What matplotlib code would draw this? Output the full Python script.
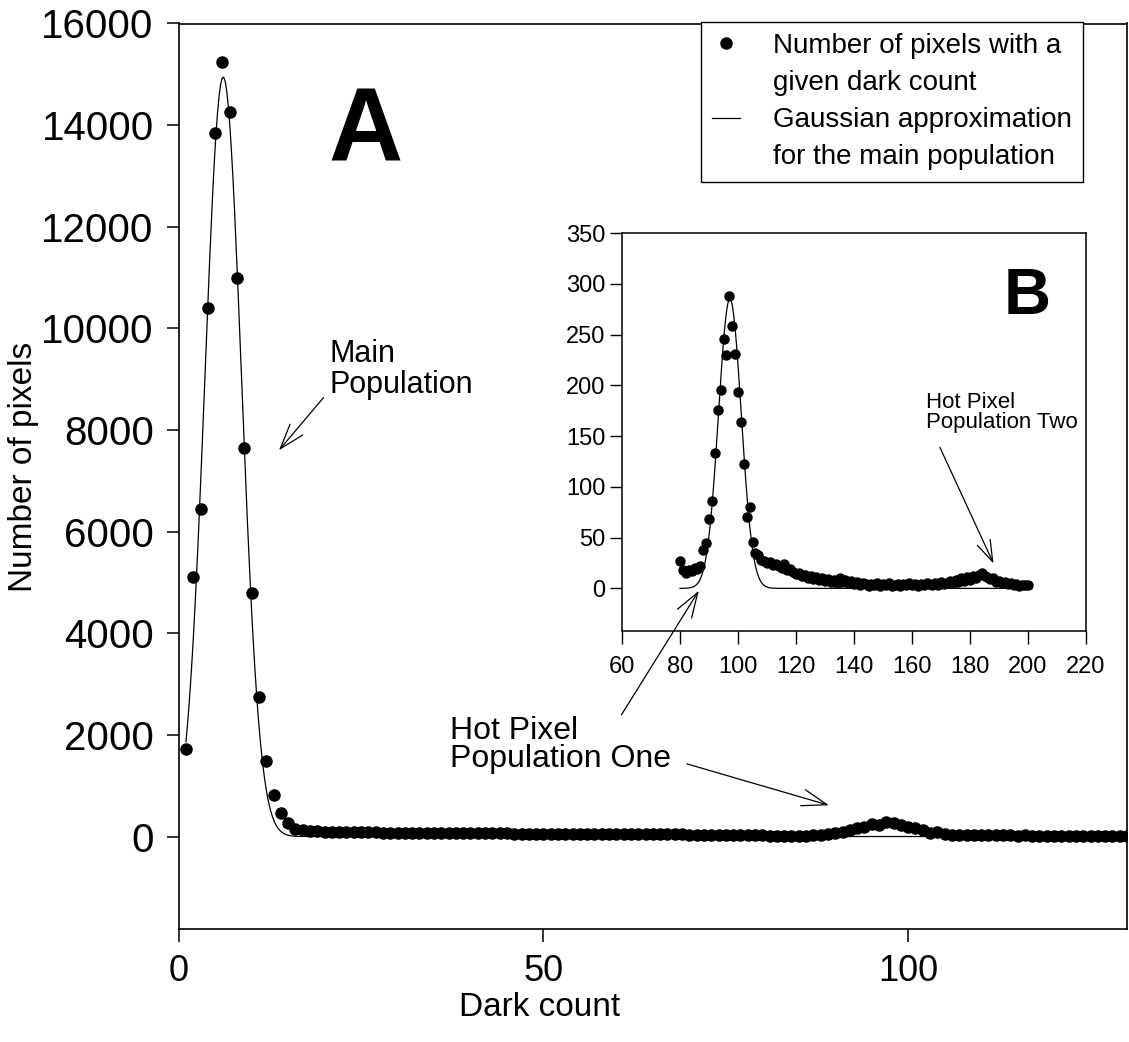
import numpy as np
import matplotlib
matplotlib.use("Agg")
import matplotlib.pyplot as plt
from matplotlib.lines import Line2D

plt.rcParams['font.family'] = ['Liberation Sans', 'DejaVu Sans']

# dark count histogram
dark_count = list(range(1, 201))
pixels = [
    1720, 5100, 6450, 10400, 13850, 15250, 14250, 11000, 7650, 4800,
    2750, 1490, 820, 460, 270, 150, 125, 110, 100, 95,
    92, 90, 88, 85, 84, 82, 80, 79, 78, 76,
    75, 74, 72, 71, 70, 69, 68, 67, 66, 65,
    64, 63, 62, 61, 60, 59, 58, 57, 56, 55,
    55, 54, 53, 52, 51, 50, 50, 49, 48, 47,
    46, 46, 45, 44, 43, 42, 42, 41, 40, 39,
    38, 37, 36, 35, 34, 33, 32, 30, 29,
    # 80 .. 200
    27, 18, 15, 18, 17, 20, 19, 22, 38, 45,
    68, 86, 133, 176, 195, 246, 230, 288, 258, 231,
    193, 164, 122, 70, 80, 46, 35, 33, 28, 27,
    25, 26, 23, 24, 22, 20, 24, 18, 19, 16,
    14, 15, 12, 13, 10, 12, 9, 11, 8, 10,
    7, 9, 6, 8, 5, 10, 6, 8, 5, 7,
    4, 6, 3, 5, 4, 2, 4, 3, 5, 2,
    4, 3, 5, 2, 3, 4, 2, 4, 3, 5,
    3, 4, 2, 4, 3, 5, 4, 3, 5, 3,
    6, 4, 5, 7, 5, 8, 6, 10, 7, 11,
    8, 12, 10, 13, 15, 12, 11, 9, 10, 6,
    7, 5, 6, 4, 5, 3, 4, 2, 3, 3,
    3,
]

# gaussian approximation parameters for the main population
main_amp, main_mu, main_sigma = 14950, 6.1, 2.5
inset_amp, inset_mu, inset_sigma = 285, 97.2, 3.9

x = np.array(dark_count)
y = np.array(pixels)

fig = plt.figure(figsize=(11.29, 10.42), dpi=100)
ax = fig.add_axes([178.7 / 1129, 1 - 929 / 1042, 948.3 / 1129, 905.5 / 1042])

xs = np.linspace(1, 130, 600)
ax.plot(xs, main_amp * np.exp(-(xs - main_mu) ** 2 / (2 * main_sigma ** 2)),
        color='black', lw=0.9, zorder=2)
ax.plot(x, y, 'o', color='black', ms=8, zorder=3)

ax.set_xlim(0, 130)
ax.set_ylim(-1820, 16000)
ax.set_xticks([0, 50, 100])
ax.set_yticks(range(0, 16001, 2000))
ax.tick_params(direction='out', length=9, width=1.1, pad=9)
ax.tick_params(axis='y', labelsize=29)
ax.tick_params(axis='x', labelsize=26)
for s in ax.spines.values():
    s.set_linewidth(1.2)
ax.set_xlabel('Dark count', fontsize=24)
ax.xaxis.set_label_coords((540 - 178.7) / 948.3, -0.07)
ax.set_ylabel('Number of pixels', fontsize=24)
ax.yaxis.set_label_coords(-0.147, 0.51)

ax.text(20.5, 13304, 'A', fontsize=74, fontweight='bold', va='baseline')
ax.text(20.7, 9800, 'Main\nPopulation', fontsize=22, va='top', linespacing=1.05)
ax.annotate('', xy=(13.5, 7560), xytext=(20.1, 8680),
            arrowprops=dict(arrowstyle='->,head_length=0.9,head_width=0.3',
                            lw=0.9, color='black', mutation_scale=20))
ax.text(37.2, 1800, 'Hot Pixel\nPopulation One', fontsize=23, va='center',
        linespacing=0.95)
ax.annotate('', xy=(89.5, 600), xytext=(69.3, 1445),
            arrowprops=dict(arrowstyle='->,head_length=0.9,head_width=0.3',
                            lw=0.9, color='black', mutation_scale=20))

handles = [Line2D([], [], marker='o', ls='none', color='black', ms=8),
           Line2D([], [], ls='none'),
           Line2D([], [], color='black', lw=0.9),
           Line2D([], [], ls='none')]
labels = ['Number of pixels with a', 'given dark count',
          'Gaussian approximation', 'for the main population']
leg = ax.legend(handles, labels, loc='upper right',
                bbox_to_anchor=(1083 / 1129, 1 - 22 / 1042),
                bbox_transform=fig.transFigure, borderaxespad=0,
                fontsize=20, frameon=True, fancybox=False, framealpha=1,
                edgecolor='black', handlelength=1.0, handletextpad=1.2,
                labelspacing=0.4, borderpad=0.4)
leg.get_frame().set_linewidth(1.0)

# inset
axins = fig.add_axes([622 / 1129, 1 - 631 / 1042, 464 / 1129, 398 / 1042])
sub = x >= 80
xi = np.linspace(80, 200, 600)
axins.plot(xi, inset_amp * np.exp(-(xi - inset_mu) ** 2 / (2 * inset_sigma ** 2)),
           color='black', lw=0.9)
axins.plot(x[sub], y[sub], 'o', color='black', ms=6.5)
axins.set_xlim(60, 220)
axins.set_ylim(-42, 350)
axins.set_xticks(range(60, 221, 20))
axins.set_yticks(range(0, 351, 50))
axins.tick_params(direction='out', length=9, width=1.0, labelsize=17)
axins.tick_params(axis='x', pad=9)
axins.tick_params(axis='y', pad=3)
for s in axins.spines.values():
    s.set_linewidth(1.1)
axins.text(191.6, 270, 'B', fontsize=47, fontweight='bold', va='baseline')
axins.text(164.8, 173, 'Hot Pixel\nPopulation Two', fontsize=16, va='center',
           linespacing=0.95)
axins.annotate('', xy=(188.5, 22), xytext=(169.2, 141.5),
               arrowprops=dict(arrowstyle='->,head_length=0.9,head_width=0.3',
                               lw=0.9, color='black', mutation_scale=17))
axins.annotate('', xy=(87, 0), xytext=(60.5, 2350), textcoords=ax.transData,
               annotation_clip=False,
               arrowprops=dict(arrowstyle='->,head_length=0.9,head_width=0.3',
                               lw=0.9, color='black', mutation_scale=20))

fig.savefig('out.png', dpi=100)
